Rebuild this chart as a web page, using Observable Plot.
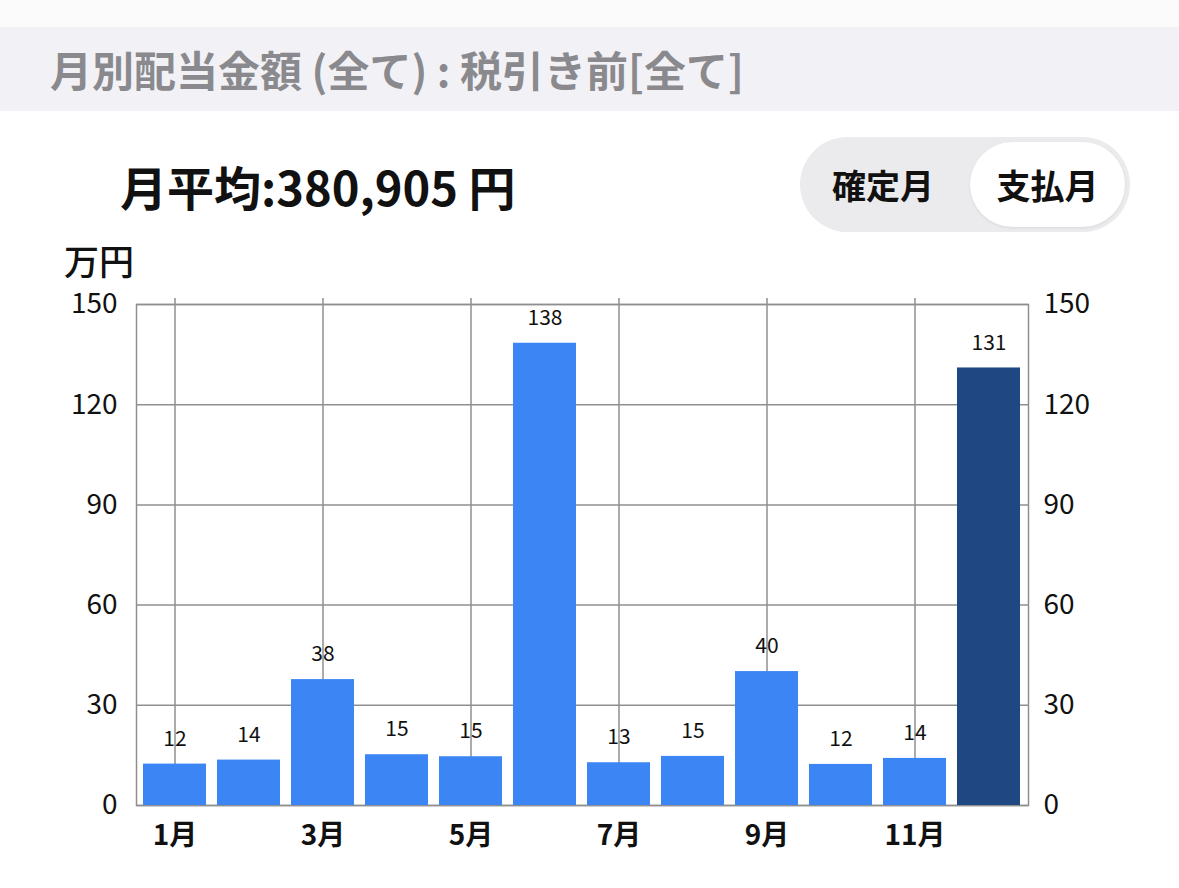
<!DOCTYPE html>
<html><head><meta charset="utf-8">
<script src="https://cdn.jsdelivr.net/npm/d3@7"></script>
<script src="https://cdn.jsdelivr.net/npm/@observablehq/plot@0.6"></script>
<style>
html,body{margin:0;padding:0;background:#fff;width:1179px;height:888px;overflow:hidden;font-family:"Noto Sans CJK JP","Noto Sans",sans-serif;}
#topstrip{position:absolute;left:0;top:0;width:1179px;height:27px;background:#fbfbfb;}
#header{position:absolute;left:0;top:27px;width:1179px;height:84px;background:#f2f2f6;}
#title{position:absolute;left:50px;top:27px;height:84px;line-height:84px;font-size:42px;font-weight:700;color:#8a8a8e;white-space:nowrap;}
#avg{position:absolute;left:120px;top:158px;font-size:47px;font-weight:700;color:#111;white-space:nowrap;line-height:56px;}
#toggle{position:absolute;left:800px;top:137px;width:330px;height:95px;border-radius:48px;background:#ebebed;}
#toggle .sel{position:absolute;left:170px;top:5px;width:155px;height:85px;border-radius:43px;background:#fff;box-shadow:0 1px 3px rgba(0,0,0,0.08);}
#toggle .lab{position:absolute;top:0;height:95px;line-height:95px;font-size:34px;font-weight:700;color:#111;text-align:center;}
#unit{position:absolute;left:64px;top:242px;font-size:35px;font-weight:500;color:#111;line-height:35px;}
#chart{position:absolute;left:0;top:280px;}
</style></head>
<body>
<div id="topstrip"></div>
<div id="header"></div>
<div id="title">月別配当金額 (全て) : 税引き前[全て]</div>
<div id="avg">月平均:380,905 円</div>
<div id="toggle"><div class="sel"></div>
  <div class="lab" style="left:0px;width:166px;">確定月</div>
  <div class="lab" style="left:170px;width:155px;">支払月</div>
</div>
<div id="unit">万円</div>
<div id="chart"></div>
<script>
const months = ["1月","2月","3月","4月","5月","6月","7月","8月","9月","10月","11月","12月"];
const values = [12.4, 13.6, 37.7, 15.2, 14.6, 138.4, 12.8, 14.7, 40.1, 12.3, 14.1, 131.0];
const labels = ["12","14","38","15","15","138","13","15","40","12","14","131"];
const highlighted = [false,false,false,false,false,false,false,false,false,false,false,true];
const xTicks = ["1月","3月","5月","7月","9月","11月"];
const yTicks = [0, 30, 60, 90, 120, 150];

const data = months.map((m, i) => ({month: m, value: values[i], label: labels[i], hi: highlighted[i]}));
const gridColor = "#8f8f8f";
const font = '"Noto Sans CJK JP","Noto Sans",sans-serif';

const chart = Plot.plot({
  width: 1179,
  height: 600,
  marginTop: 24,
  marginBottom: 75,
  marginLeft: 136,
  marginRight: 151,
  style: {fontFamily: font, color: "#111", background: "transparent", overflow: "visible"},
  x: {type: "band", domain: months, paddingInner: 0.147, paddingOuter: 0.063, label: null},
  y: {domain: [0, 150], label: null},
  marks: [
    Plot.ruleY(yTicks, {stroke: gridColor, strokeWidth: 1.5}),
    Plot.ruleX(xTicks, {x: d => d, stroke: gridColor, strokeWidth: 1.5, insetTop: -6}),
    Plot.frame({stroke: gridColor, strokeWidth: 1.5}),
    Plot.barY(data, {x: "month", y: "value", fill: d => d.hi ? "#1f4782" : "#3b86f4"}),
    Plot.text(data, {x: "month", y: "value", text: "label", dy: -25, fontSize: 21, fill: "#111"}),
    Plot.axisY({anchor: "left", ticks: yTicks, tickSize: 0, tickPadding: 19, fontSize: 28, label: null}),
    Plot.axisY({anchor: "right", ticks: yTicks, tickSize: 0, tickPadding: 15, fontSize: 28, label: null}),
    Plot.axisX({ticks: xTicks, tickSize: 0, tickPadding: 20, fontSize: 28, fontWeight: 600, label: null})
  ]
});
document.getElementById("chart").appendChild(chart);
</script>
</body></html>
